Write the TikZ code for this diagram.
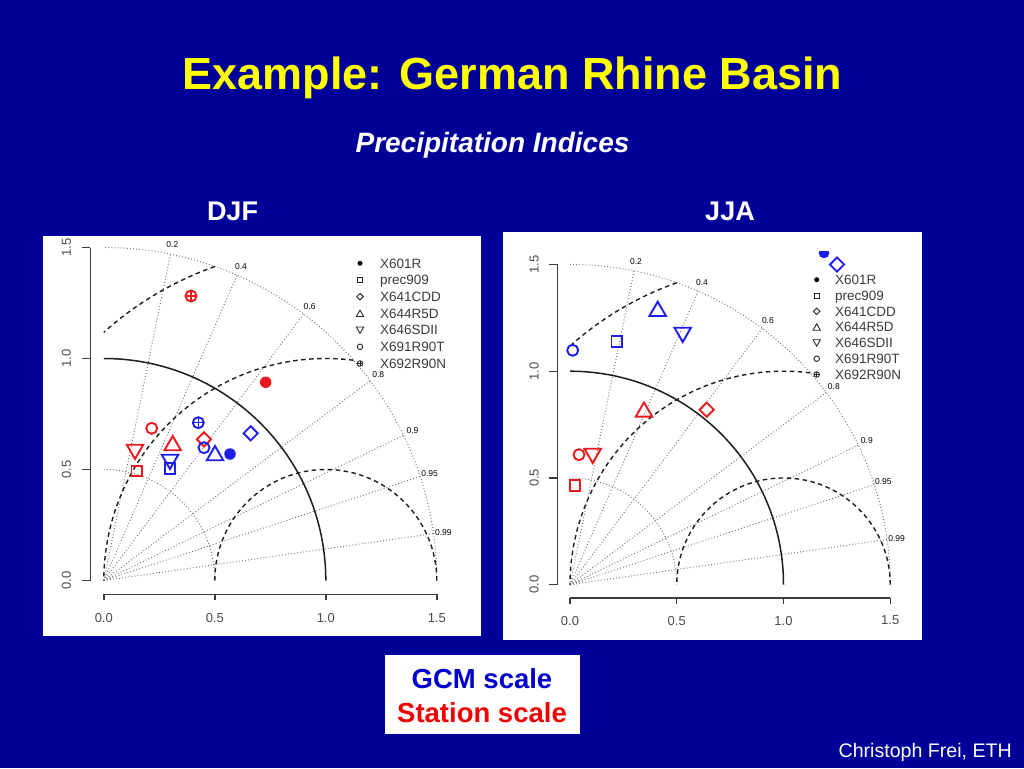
\documentclass[tikz,border=0pt]{standalone}
\usepackage{fontspec}
\setmainfont{Liberation Sans}
\usetikzlibrary{shapes.geometric}
\definecolor{bg}{RGB}{0,0,153}
\definecolor{ttl}{RGB}{255,255,0}
\definecolor{pred}{RGB}{235,25,30}
\definecolor{pblue}{RGB}{30,30,235}
\definecolor{gcmblue}{RGB}{0,0,204}
\definecolor{stred}{RGB}{240,0,0}
\definecolor{gridgray}{RGB}{115,115,115}
\definecolor{darkline}{RGB}{30,30,30}
\definecolor{axgray}{RGB}{60,60,60}
\definecolor{labgray}{RGB}{75,75,75}
\newcommand{\fsz}[1]{\fontsize{#1}{#1}\selectfont}
\tikzset{
  corrline/.style={gridgray, line width=0.95pt, dash pattern=on 0.9pt off 2.2pt},
  refarc/.style={darkline, line width=1.5pt},
  rmsarc/.style={darkline, line width=1.4pt, dash pattern=on 4.5pt off 3.5pt},
  axisline/.style={axgray, line width=1.4pt},
  corrlab/.style={font=\fsz{8.5}, text=black, inner sep=0pt},
  ticklab/.style={font=\fsz{13}, text=labgray, inner sep=0pt},
  legtext/.style={font=\fsz{13.5}, text=labgray!80!black, inner sep=0pt, anchor=base west},
  mk/.style={inner sep=0pt, line width=1.9pt, draw},
  msq/.style={mk, rectangle, minimum size=10.5pt},
  mci/.style={mk, circle, minimum size=11pt},
  mdi/.style={mk, diamond, minimum width=15pt, minimum height=15pt},
  mtu/.style={mk, regular polygon, regular polygon sides=3, minimum size=19pt},
  mtd/.style={mtu, shape border rotate=180},
  mfc/.style={circle, fill, inner sep=0pt, minimum size=11.5pt},
  mcp/.style={mci, draw=#1, path picture={\draw[#1, line width=1.5pt]
      (path picture bounding box.north) -- (path picture bounding box.south)
      (path picture bounding box.east) -- (path picture bounding box.west);}},
  ls/.style={draw=black!85, inner sep=0pt, line width=0.9pt},
  lsq/.style={ls, rectangle, minimum size=5pt},
  lci/.style={ls, circle, minimum size=5.5pt},
  ldi/.style={ls, diamond, minimum width=7pt, minimum height=7pt},
  ltu/.style={ls, regular polygon, regular polygon sides=3, minimum size=8.5pt},
  ltd/.style={ltu, shape border rotate=180},
  lfc/.style={circle, fill=black, inner sep=0pt, minimum size=5pt},
  lcp/.style={lci, path picture={\draw[black!85, line width=0.8pt]
      (path picture bounding box.north) -- (path picture bounding box.south)
      (path picture bounding box.east) -- (path picture bounding box.west);}},
  panel/.style={fill=white, draw=none},
}
\newcommand{\taylorgrid}{%
  \foreach \cc [count=\ii] in {0.2,0.4,0.6,0.8,0.9,0.95,0.99}{%
    \draw[corrline] (0,0) -- ({1.5*\cc},{1.5*sqrt(1-\cc*\cc)});
    \node[corrlab] (cl\ii) at ({1.545*\cc},{1.545*sqrt(1-\cc*\cc)}) {\cc};
  }
  \draw[corrline] (0.5,0) arc[start angle=0,end angle=90,radius=0.5];
  \draw[corrline] (1.5,0) arc[start angle=0,end angle=90,radius=1.5];
  \draw[refarc] (1,0) arc[start angle=0,end angle=90,radius=1];
  \draw[rmsarc] (1.5,0) arc[start angle=0,end angle=180,radius=0.5];
  \draw[rmsarc] (1.125,0.99216) arc[start angle=82.82,end angle=180,radius=1];
  \draw[rmsarc] (0.5,1.41421) arc[start angle=109.47,end angle=131.81,radius=1.5];
  \draw[axisline] (-0.06,0) -- (-0.06,1.5);
  \draw[axisline] (0,-0.062) -- (1.5,-0.062);
  \foreach \vv/\tl [count=\jj] in {0/0.0,0.5/0.5,1/1.0,1.5/1.5}{%
    \draw[axisline] (-0.06,\vv) -- (-0.098,\vv);
    \draw[axisline] (\vv,-0.062) -- (\vv,-0.09);
    \node[ticklab,rotate=90] (ty\jj) at (-0.168,\vv) {\tl};
    \node[ticklab] (tx\jj) at (\vv,-0.168) {\tl};
  }
}
% #1 symbol x, #2 text x, #3 first row y (centre), #4 spacing, #5 prefix
\newcommand{\taylorlegend}[5]{%
  \foreach \lab [count=\kk from 0] in {X601R,prec909,X641CDD,X644R5D,X646SDII,X691R90T,X692R90N}{%
    \node[legtext] (#5t\kk) at (#2,{#3+\kk*#4+4.7}) {\lab};
  }
  \node[lfc] (#5s0) at (#1,{#3+0*#4}) {};
  \node[lsq] (#5s1) at (#1,{#3+1*#4}) {};
  \node[ldi] (#5s2) at (#1,{#3+2*#4}) {};
  \node[ltu] (#5s3) at (#1,{#3+3*#4+1}) {};
  \node[ltd] (#5s4) at (#1,{#3+4*#4-1}) {};
  \node[lci] (#5s5) at (#1,{#3+5*#4}) {};
  \node[lcp] (#5s6) at (#1,{#3+6*#4}) {};
}
\begin{document}
\begin{tikzpicture}[x=1pt,y=-1pt]
\useasboundingbox (0,0) rectangle (1024,768);
\fill[bg] (0,0) rectangle (1024,768);

% titles
\node[anchor=base, text=ttl, font=\fsz{45}\bfseries, inner sep=0pt] (title) at (512.5,89) {Example: German Rhine Basin};
\node[anchor=base, text=white, font=\fsz{28}\bfseries\itshape, inner sep=0pt] (sub) at (492.5,152) {Precipitation Indices};
\node[anchor=base, text=white, font=\fsz{27}\bfseries, inner sep=0pt] (djf) at (232.5,220) {DJF};
\node[anchor=base, text=white, font=\fsz{27}\bfseries, inner sep=0pt] (jja) at (730,220) {JJA};

% panels
\fill[panel] (43,236) rectangle (481,636);
\fill[panel] (503,232) rectangle (922,640);

% left Taylor diagram
\begin{scope}[shift={(103.8,580.5)}, x=222pt, y=222pt]
  \taylorgrid
\end{scope}
\taylorlegend{360}{380}{263.3}{16.7}{L}

% right Taylor diagram
\begin{scope}[shift={(570,584.7)}, x=213.5pt, y=213.5pt]
  \taylorgrid
\end{scope}
\taylorlegend{816.7}{835}{279.7}{15.8}{R}

% left data: station (red)
\node[mcp=pred] (Lr7) at (191,296) {};
\node[mfc, fill=pred] (Lr1) at (265.7,382.3) {};
\node[mci, draw=pred] (Lr6) at (151.7,428.3) {};
\node[mtu, draw=pred] (Lr4) at (172.7,445.5) {};
\node[mdi, draw=pred] (Lr3) at (204,439.3) {};
\node[mtd, draw=pred] (Lr5) at (135,449.5) {};
\node[msq, draw=pred] (Lr2) at (136.7,471) {};
% left data: GCM (blue)
\node[mcp=pblue] (Lb7) at (198.3,422.7) {};
\node[mdi, draw=pblue] (Lb3) at (250.7,433.3) {};
\node[mci, draw=pblue] (Lb6) at (204,447.7) {};
\node[mtu, draw=pblue] (Lb4) at (215,455.5) {};
\node[mfc, fill=pblue] (Lb1) at (230,454) {};
\node[mtd, draw=pblue] (Lb5) at (170,459.5) {};
\node[msq, draw=pblue] (Lb2) at (170,468.3) {};

% right data: GCM (blue)
\begin{scope}
  \clip (810,251) rectangle (840,270);
  \fill[pblue] (824,253) circle (5.3);
\end{scope}
\node[mdi, draw=pblue] (Rb3) at (837,264.5) {};
\node[mtu, draw=pblue] (Rb4) at (657.7,311.2) {};
\node[mtd, draw=pblue] (Rb5) at (682.7,332.5) {};
\node[msq, draw=pblue] (Rb2) at (616.7,341.3) {};
\node[mci, draw=pblue] (Rb6) at (572.7,350.3) {};
% right data: station (red)
\node[mtu, draw=pred] (Rr4) at (644,411.9) {};
\node[mdi, draw=pred] (Rr3) at (706.7,409.7) {};
\node[mci, draw=pred] (Rr6) at (579,454.7) {};
\node[mtd, draw=pred] (Rr5) at (592.7,453.5) {};
\node[msq, draw=pred] (Rr2) at (575,485.3) {};

% key box
\fill[white] (385,655) rectangle (579.6,734);
\node[anchor=base, text=gcmblue, font=\fsz{27.5}\bfseries, inner sep=0pt] (gcm) at (482,688.5) {GCM scale};
\node[anchor=base, text=stred, font=\fsz{27.5}\bfseries, inner sep=0pt] (stn) at (482,722) {Station scale};

% footer
\node[anchor=base east, text=white, font=\fsz{19.6}, inner sep=0pt] (foot) at (1012,757) {Christoph Frei, ETH};
\end{tikzpicture}
\end{document}
